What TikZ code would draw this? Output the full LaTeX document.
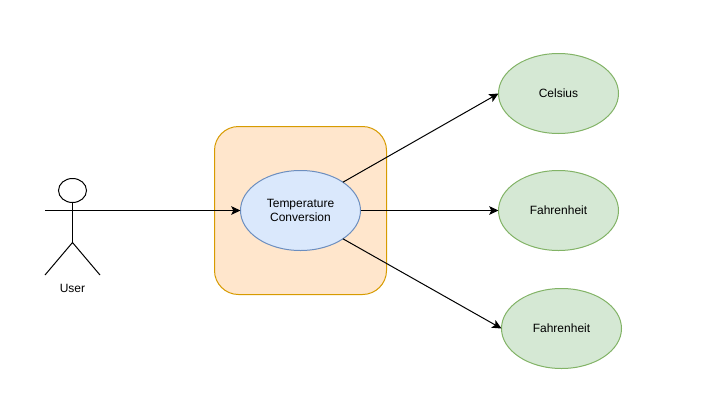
\documentclass[tikz,border=0pt]{standalone}
\usepackage{fontspec}
\setmainfont{Liberation Sans}
\usetikzlibrary{arrows.meta,shapes.geometric}
\definecolor{orangefill}{HTML}{FFE6CC}
\definecolor{orangeline}{HTML}{D79B00}
\definecolor{bluefill}{HTML}{DAE8FC}
\definecolor{blueline}{HTML}{6C8EBF}
\definecolor{greenfill}{HTML}{D5E8D4}
\definecolor{greenline}{HTML}{82B366}
\tikzset{
  x=0.75pt,y=-0.75pt,
  every node/.style={font=\fontsize{9}{10.5}\selectfont,text=black,align=center,inner sep=0pt,outer sep=0pt},
  usecase/.style={ellipse,draw,line width=0.75pt,minimum width=90pt,minimum height=60pt},
  bluecase/.style={usecase,draw=blueline,fill=bluefill},
  greencase/.style={usecase,draw=greenline,fill=greenfill},
  boxarea/.style={rectangle,rounded corners=18pt,draw=orangeline,fill=orangefill,line width=0.75pt,minimum width=129pt,minimum height=126pt},
  actorline/.style={draw=black,line width=0.75pt},
  link/.style={draw=black,line width=0.75pt,-{Stealth[length=7pt,width=6.5pt,inset=1.6pt]}}
}
\begin{document}
\begin{tikzpicture}
\useasboundingbox (0,0) rectangle (722,411);
\node[boxarea] (area) at (300.5,210.5) {};
\node[bluecase] (conv) at (300.5,210.5) {Temperature\\Conversion};
\node[greencase] (cel) at (558.5,93.5) {Celsius};
\node[greencase] (fah1) at (558.5,210.5) {Fahrenheit};
\node[greencase] (fah2) at (561.5,328.5) {Fahrenheit};
% actor
\node[ellipse,actorline,fill=white,minimum width=21pt,minimum height=18pt] (head) at (72.5,190.5) {};
\coordinate (hip) at (72.5,242.5);
\coordinate (armL) at (45,210.5);
\coordinate (armR) at (100,210.5);
\coordinate (footL) at (45,275);
\coordinate (footR) at (100,275);
\draw[actorline] (head.south) -- (hip);
\draw[actorline] (armL) -- (armR);
\draw[actorline] (footL) -- (hip) -- (footR);
\node (user) at (72.5,288) {User};
% connectors
\draw[link] (armR) -- (conv.west);
\draw[link] (conv.north east) -- (cel.west);
\draw[link] (conv.east) -- (fah1.west);
\draw[link] (conv.south east) -- (fah2.west);
\end{tikzpicture}
\end{document}
